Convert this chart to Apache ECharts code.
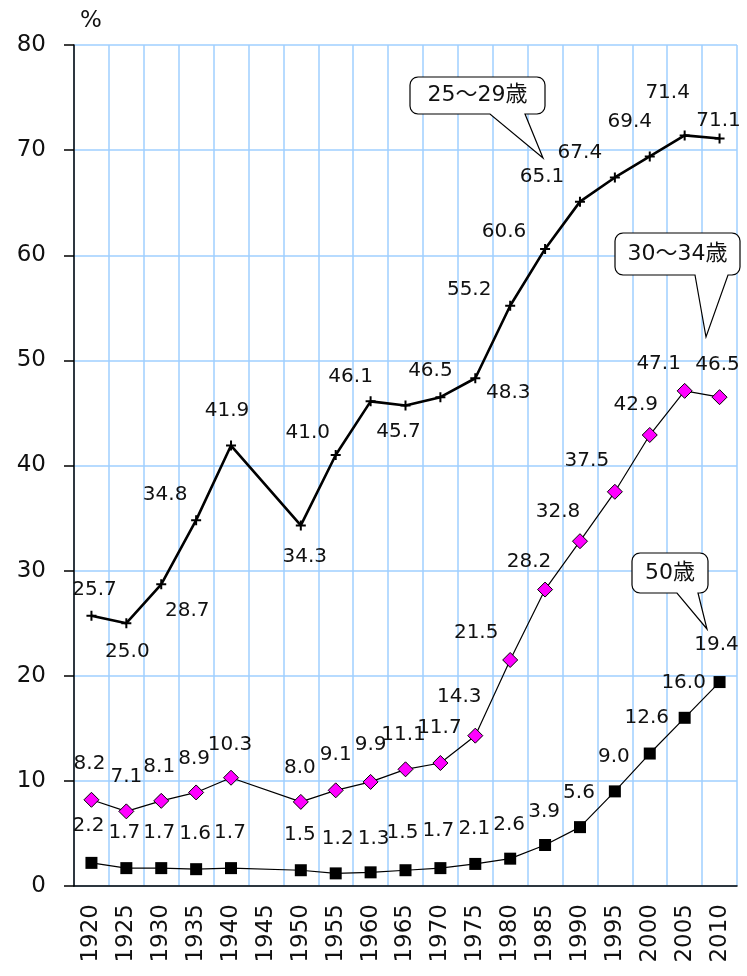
<!DOCTYPE html>
<html>
<head>
<meta charset="utf-8">
<script src="https://cdn.jsdelivr.net/npm/echarts@6/dist/echarts.min.js"></script>
<style>
  html, body { margin: 0; padding: 0; background: #fff; }
  #chart { width: 747px; height: 976px; }
</style>
</head>
<body>
<div id="chart"></div>
<script>
// 年次
const years = ['1920', '1925', '1930', '1935', '1940', '1945', '1950', '1955', '1960', '1965',
  '1970', '1975', '1980', '1985', '1990', '1995', '2000', '2005', '2010'];
// 未婚率 (%)  1945 はデータなし
const age25to29 = [25.7, 25.0, 28.7, 34.8, 41.9, null, 34.3, 41.0, 46.1, 45.7,
  46.5, 48.3, 55.2, 60.6, 65.1, 67.4, 69.4, 71.4, 71.1];
const age30to34 = [8.2, 7.1, 8.1, 8.9, 10.3, null, 8.0, 9.1, 9.9, 11.1,
  11.7, 14.3, 21.5, 28.2, 32.8, 37.5, 42.9, 47.1, 46.5];
const age50 = [2.2, 1.7, 1.7, 1.6, 1.7, null, 1.5, 1.2, 1.3, 1.5,
  1.7, 2.1, 2.6, 3.9, 5.6, 9.0, 12.6, 16.0, 19.4];
const yTicks = [0, 10, 20, 30, 40, 50, 60, 70, 80];

// ラベルのずらし量 (マーカー中心からの px)
const off25 = [[3, -26], [1, 29], [26, 27], [-31, -25], [-4, -35], null, [4, 31], [-28, -22], [-20, -25], [-7, 26],
  [-10, -26], [33, 15], [-41, -16], [-41, -17], [-38, -25], [-35, -25], [-20, -35], [-17, -43], [-1, -18]];
const off30 = [[-2, -36], [0, -35], [-2, -34], [-2, -34], [-1, -33], null, [-1, -34], [0, -36], [0, -37], [-2, -35],
  [-1, -35], [-16, -39], [-34, -27], [-16, -28], [-22, -29], [-28, -31], [-14, -30], [-26, -27], [-2, -32]];
const off50 = [[-3, -37], [-2, -35], [-2, -35], [-1, -35], [-1, -35], null, [-1, -35], [2, -35], [3, -34], [-3, -37],
  [-2, -37], [-1, -35], [-1, -34], [-1, -33], [-1, -34], [-1, -35], [-3, -36], [-1, -35], [-3, -37]];

const labelFont = 'DejaVu Sans';
const gridColor = '#9fcfff';

const withLabels = (vals, offs) => vals.map((v, i) => {
  if (v === null) return null;
  return {
    value: v,
    label: { offset: offs[i] }
  };
});

const dataLabel = {
  show: true,
  position: 'inside',
  color: '#111',
  fontSize: 20,
  fontFamily: labelFont,
  formatter: p => Number(p.value).toFixed(1)
};

// 吹き出し (角丸四角＋しっぽ) をポリゴンで
const callout = (x0, y0, x1, y1, ta, tb, tx, ty, text) => {
  const r = 8;
  const pts = [];
  const arc = (cx, cy, a0, a1) => {
    for (let k = 0; k <= 4; k++) {
      const a = a0 + (a1 - a0) * k / 4;
      pts.push([cx + r * Math.cos(a), cy + r * Math.sin(a)]);
    }
  };
  arc(x0 + r, y0 + r, Math.PI, Math.PI * 1.5);
  arc(x1 - r, y0 + r, Math.PI * 1.5, Math.PI * 2);
  arc(x1 - r, y1 - r, 0, Math.PI * 0.5);
  pts.push([tb, y1], [tx, ty], [ta, y1]);
  arc(x0 + r, y1 - r, Math.PI * 0.5, Math.PI);
  return [{
    type: 'polygon',
    shape: { points: pts },
    style: { fill: '#fff', stroke: '#000', lineWidth: 1.2 },
    z: 10
  }, {
    type: 'text',
    x: (x0 + x1) / 2,
    y: (y0 + y1) / 2,
    style: {
      text: text,
      fill: '#111',
      font: '22px "DejaVu Sans", "Noto Sans CJK JP"',
      align: 'center',
      verticalAlign: 'middle'
    },
    z: 11
  }];
};

const chart = echarts.init(document.getElementById('chart'));

const option = {
  animation: false,
  backgroundColor: '#fff',
  grid: { left: 74, right: 10, top: 45, bottom: 90 },
  xAxis: {
    type: 'category',
    data: years,
    boundaryGap: true,
    axisLine: { lineStyle: { color: '#000', width: 1.5 } },
    axisTick: { show: false },
    axisLabel: {
      rotate: 90,
      interval: 0,
      margin: 18,
      color: '#111',
      fontSize: 23,
      fontFamily: labelFont
    },
    splitLine: { show: true, interval: 0, lineStyle: { color: gridColor, width: 1.5 } }
  },
  yAxis: {
    type: 'value',
    min: yTicks[0],
    max: yTicks[yTicks.length - 1],
    interval: 10,
    name: '%',
    nameLocation: 'end',
    nameGap: 12,
    nameTextStyle: {
      color: '#111',
      fontSize: 23,
      fontFamily: labelFont,
      align: 'left',
      verticalAlign: 'bottom',
      padding: [0, 0, 0, 6]
    },
    axisLine: { show: true, lineStyle: { color: '#000', width: 1.5 } },
    axisTick: { show: true, length: 10, lineStyle: { color: '#000', width: 1.5 } },
    axisLabel: {
      margin: 28,
      color: '#111',
      fontSize: 23,
      fontFamily: labelFont
    },
    splitLine: { show: true, lineStyle: { color: gridColor, width: 1.5 } }
  },
  series: [{
    name: '25～29歳',
    type: 'line',
    connectNulls: true,
    data: withLabels(age25to29, off25),
    symbol: 'path://M4,0h2v4h4v2h-4v4h-2v-4h-4v-2h4z',
    symbolSize: 10,
    itemStyle: { color: '#000' },
    lineStyle: { color: '#000', width: 2.6 },
    label: dataLabel,
    z: 3
  }, {
    name: '30～34歳',
    type: 'line',
    connectNulls: true,
    data: withLabels(age30to34, off30),
    symbol: 'diamond',
    symbolSize: 15,
    itemStyle: { color: '#ff00ff', borderColor: '#000', borderWidth: 1 },
    lineStyle: { color: '#000', width: 1.2 },
    label: dataLabel,
    z: 4
  }, {
    name: '50歳',
    type: 'line',
    connectNulls: true,
    data: withLabels(age50, off50),
    symbol: 'rect',
    symbolSize: 12,
    itemStyle: { color: '#000' },
    lineStyle: { color: '#000', width: 1.2 },
    label: dataLabel,
    z: 5
  }],
  graphic: [].concat(
    callout(410, 77, 545, 114, 490, 525, 543, 158, '25～29歳'),
    callout(615, 233, 740, 275, 695, 728, 706, 337, '30～34歳'),
    callout(632, 553, 708, 593, 677, 698, 707, 629, '50歳')
  )
};

chart.setOption(option);
</script>
</body>
</html>
